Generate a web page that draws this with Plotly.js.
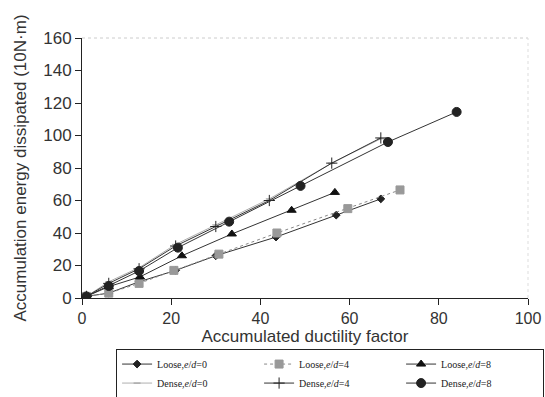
<!DOCTYPE html>
<html>
<head>
<meta charset="utf-8">
<script src="https://cdn.plot.ly/plotly-3.0.1.min.js"></script>
<style>html,body{margin:0;padding:0;background:#fff;}#chart{width:545px;height:397px;}</style>
</head>
<body>
<div id="chart"></div>
<script>
// Data
const looseE0_x = [1, 6, 12.8, 21, 30, 43.5, 57, 67];
const looseE0_y = [1, 3, 10, 17, 26, 37.5, 51, 61];
const looseE4_x = [1, 6, 12.8, 20.6, 30.7, 43.7, 59.6, 71.3];
const looseE4_y = [1, 3, 9, 17, 27, 40, 55, 66.5];
const looseE8_x = [1, 6, 13, 22.4, 33.6, 47, 56.7];
const looseE8_y = [1, 7, 13, 26, 39.4, 54, 65];
const denseE0_x = [1, 6, 13, 21, 30, 42, 56, 67];
const denseE0_y = [1, 10, 19, 33, 45, 61, 83, 98];
const denseE4_x = [1, 6, 12.8, 21, 30, 42, 56, 67];
const denseE4_y = [1, 9, 18, 32, 44, 60, 83, 98.5];
const denseE8_x = [1, 6, 12.8, 21.5, 33, 49, 68.6, 84];
const denseE8_y = [1, 7.4, 16.6, 31, 47, 69, 96, 114.5];

const seriesNames = ['Loose,<i>e</i>/<i>d</i>=0', 'Loose,<i>e</i>/<i>d</i>=4', 'Loose,<i>e</i>/<i>d</i>=8',
                     'Dense,<i>e</i>/<i>d</i>=0', 'Dense,<i>e</i>/<i>d</i>=4', 'Dense,<i>e</i>/<i>d</i>=8'];
const xTicks = [0, 20, 40, 60, 80, 100];
const yTicks = [0, 20, 40, 60, 80, 100, 120, 140, 160];

function tr(x, y, name, color, lw, dash, sym, msize, mcolor) {
  return {x: x, y: y, name: name, type: 'scatter', mode: 'lines+markers',
    line: {color: color, width: lw, dash: dash},
    marker: {symbol: sym, size: msize, color: mcolor, line: {color: mcolor, width: 1}}};
}
const data = [
  tr(looseE0_x, looseE0_y, seriesNames[0], '#333', 1, 'solid', 'diamond', 6, '#222'),
  tr(looseE4_x, looseE4_y, seriesNames[1], '#888', 1, 'dot', 'square', 8, '#999'),
  tr(looseE8_x, looseE8_y, seriesNames[2], '#333', 1, 'solid', 'triangle-up', 8, '#111'),
  tr(denseE0_x, denseE0_y, seriesNames[3], '#999', 0.8, 'solid', 'line-ew', 5, '#999'),
  tr(denseE4_x, denseE4_y, seriesNames[4], '#333', 1, 'solid', 'cross-thin', 8, '#222'),
  tr(denseE8_x, denseE8_y, seriesNames[5], '#333', 1, 'solid', 'circle', 9, '#222')
];

const layout = {
  width: 545, height: 397,
  margin: {l: 82, r: 17, t: 38, b: 99},
  paper_bgcolor: '#fff', plot_bgcolor: '#fff',
  font: {family: 'Liberation Sans, Arial, sans-serif', color: '#222'},
  showlegend: true,
  legend: {
    orientation: 'h', xref: 'container', yref: 'container',
    x: 0.213, y: 0.122, xanchor: 'left', yanchor: 'top',
    bordercolor: '#222', borderwidth: 1, bgcolor: '#fff',
    font: {family: 'Liberation Serif, Times New Roman, serif', size: 10, color: '#222'},
    entrywidth: 97, entrywidthmode: 'pixels', itemwidth: 30, tracegroupgap: 0
  },
  xaxis: {
    range: [0, 100], tickvals: xTicks, ticktext: xTicks.map(String),
    showgrid: false, zeroline: false, showline: true, linecolor: '#222', linewidth: 1,
    ticks: 'outside', ticklen: 6, tickcolor: '#222',
    tickfont: {size: 16, color: '#333'},
    title: {text: 'Accumulated ductility factor', font: {size: 17, color: '#333'}, standoff: 3}
  },
  yaxis: {
    range: [0, 160], tickvals: yTicks, ticktext: yTicks.map(String),
    showgrid: false, zeroline: false, showline: true, linecolor: '#222', linewidth: 1,
    ticks: 'outside', ticklen: 6, tickcolor: '#222',
    tickfont: {size: 17, color: '#333'},
    title: {text: 'Accumulation energy dissipated (10N·m)', font: {size: 17, color: '#333'}, standoff: 12}
  },
  shapes: [
    {type: 'line', xref: 'paper', yref: 'paper', x0: 0, x1: 1, y0: 1, y1: 1,
     line: {color: '#ccc', width: 1, dash: 'dot'}},
    {type: 'line', xref: 'paper', yref: 'paper', x0: 1, x1: 1, y0: 0, y1: 1,
     line: {color: '#ddd', width: 1, dash: 'dot'}}
  ]
};

Plotly.newPlot('chart', data, layout, {displayModeBar: false, staticPlot: true});
</script>
</body>
</html>
